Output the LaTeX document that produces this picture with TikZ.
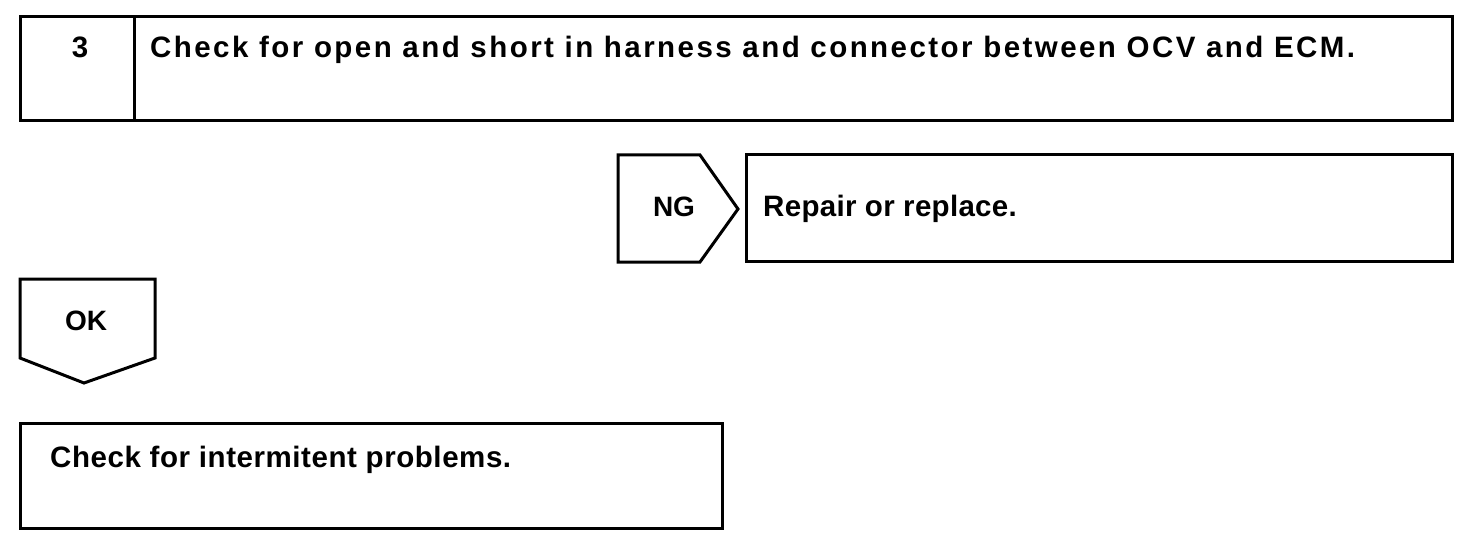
\documentclass[tikz,border=0pt]{standalone}
\usepackage{fontspec}
\setmainfont{Liberation Sans}
\begin{document}
\begin{tikzpicture}[x=1pt,y=1pt,
  frame/.style={draw=black,line width=3pt,line join=miter},
  lbl/.style={inner sep=0pt,font=\bfseries\fontsize{29.5}{32}\selectfont}]
\useasboundingbox (0,0) rectangle (1472,-548);
% top step box
\draw[frame] (20,-17) rectangle (1452,-121);
\draw[frame] (134,-17) -- (134,-121);
\node[lbl,anchor=base] (num) at (80,-58) {3};
\node[lbl,anchor=base west] (step) at (150,-58) {\addfontfeature{LetterSpace=8.3}Check for open and short in harness and connector between OCV and ECM.};
% NG pentagon
\draw[frame] (618,-155) -- (700,-155) -- (738,-209) -- (700,-262) -- (618,-262) -- cycle;
\node[lbl,anchor=base,font=\bfseries\fontsize{28}{30}\selectfont] (ng) at (674,-217) {NG};
% repair box
\draw[frame] (746,-155) rectangle (1452,-261);
\node[lbl,anchor=base west] (rep) at (763,-217) {\addfontfeature{LetterSpace=1}Repair or replace.};
% OK pentagon
\draw[frame] (20,-279) -- (155,-279) -- (155,-358) -- (84,-383) -- (20,-358) -- cycle;
\node[lbl,anchor=base,font=\bfseries\fontsize{28}{30}\selectfont] (ok) at (86,-330) {OK};
% final box
\draw[frame] (20,-423) rectangle (722,-528);
\node[lbl,anchor=base west] (fin) at (50,-467) {\addfontfeature{LetterSpace=1.9}Check for intermitent problems.};
\end{tikzpicture}
\end{document}
